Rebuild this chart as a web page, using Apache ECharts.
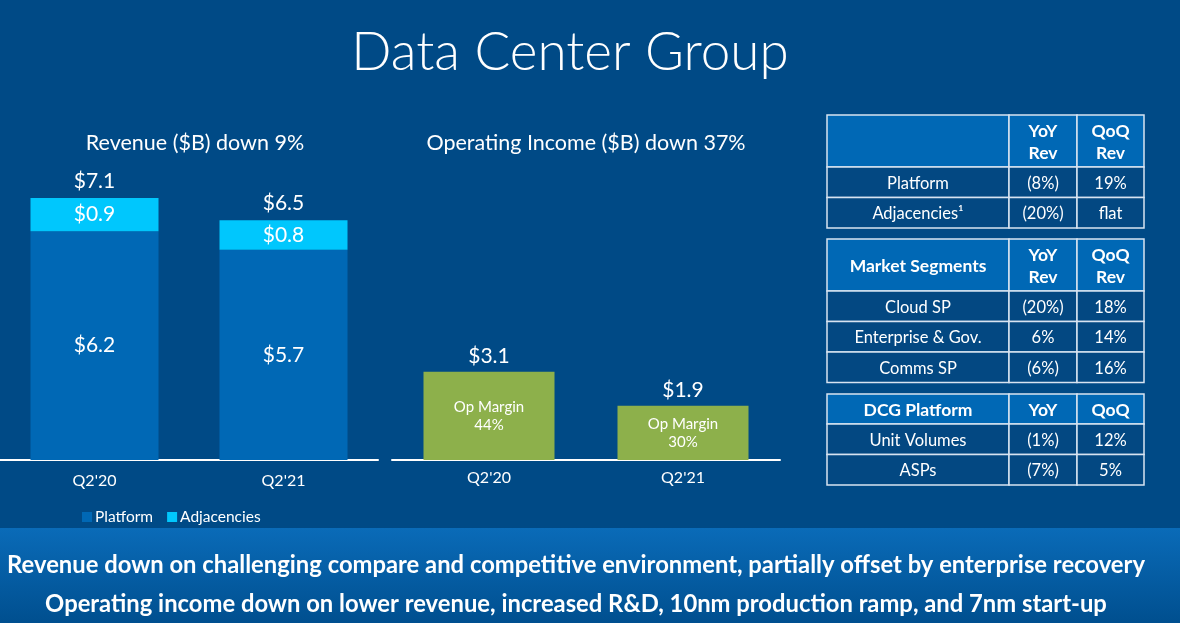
<!DOCTYPE html>
<html>
<head>
<meta charset="utf-8">
<script src="https://cdn.jsdelivr.net/npm/echarts@6/dist/echarts.min.js"></script>
<style>
  html, body { margin: 0; padding: 0; background: #004a86; }
  #chart { width: 1180px; height: 623px; }
</style>
</head>
<body>
<div id="chart"></div>
<script>
// Quarters shown on both charts
const quarters = ["Q2'20", "Q2'21"];

// Revenue ($B)
const platformRev = [6.2, 5.7];
const adjacencyRev = [0.9, 0.8];
const revenueTotals = [7.1, 6.5];

// Operating income ($B) and margin
const opIncome = [3.1, 1.9];
const opMargin = ['44%', '30%'];

// Side tables
const tableHeads = [
    ['', 'YoY\nRev', 'QoQ\nRev'],
    ['Market Segments', 'YoY\nRev', 'QoQ\nRev'],
    ['DCG Platform', 'YoY', 'QoQ']
];
const tableRows = [
    [['Platform', '(8%)', '19%'], ['Adjacencies¹', '(20%)', 'flat']],
    [['Cloud SP', '(20%)', '18%'], ['Enterprise & Gov.', '6%', '14%'], ['Comms SP', '(6%)', '16%']],
    [['Unit Volumes', '(1%)', '12%'], ['ASPs', '(7%)', '5%']]
];

const footerLines = [
    'Revenue down on challenging compare and competitive environment, partially offset by enterprise recovery',
    'Operating income down on lower revenue, increased R&D, 10nm production ramp, and 7nm start-up'
];

const FONT = 'Lato, "Noto Sans", sans-serif';
const WHITE = '#ffffff';

const chart = echarts.init(document.getElementById('chart'));

// build the table out of graphic rects + texts
function buildTables() {
    const colX = [827, 1009, 1077, 1144];
    const tops = [115, 239, 394];
    const headH = [52, 52, 30];
    const rowH = 30.5;
    const els = [];
    tableHeads.forEach((head, t) => {
        let y = tops[t];
        // header row
        for (let c = 0; c < 3; c++) {
            els.push({
                type: 'rect',
                shape: { x: colX[c], y: y, width: colX[c + 1] - colX[c], height: headH[t] },
                style: { fill: '#0068b5', stroke: '#d7e3f1', lineWidth: 1.5 }
            });
            if (head[c]) {
                els.push({
                    type: 'text', z: 10,
                    style: {
                        text: head[c], x: (colX[c] + colX[c + 1]) / 2, y: y + headH[t] / 2 + 1,
                        align: 'center', verticalAlign: 'middle', fill: WHITE,
                        fontSize: 17.5, fontWeight: 'bold', fontFamily: FONT, lineHeight: 22
                    }
                });
            }
        }
        y += headH[t];
        tableRows[t].forEach(row => {
            for (let c = 0; c < 3; c++) {
                els.push({
                    type: 'rect',
                    shape: { x: colX[c], y: y, width: colX[c + 1] - colX[c], height: rowH },
                    style: { fill: '#034882', stroke: '#d7e3f1', lineWidth: 1.5 }
                });
                els.push({
                    type: 'text', z: 10,
                    style: {
                        text: row[c], x: (colX[c] + colX[c + 1]) / 2, y: y + rowH / 2 + 1,
                        align: 'center', verticalAlign: 'middle', fill: WHITE,
                        fontSize: 16.5, fontFamily: FONT
                    }
                });
            }
            y += rowH;
        });
    });
    return els;
}

function buildFooter() {
    const els = [{
        type: 'rect',
        shape: { x: 0, y: 528, width: 1180, height: 95 },
        style: {
            fill: new echarts.graphic.LinearGradient(0, 0, 0, 1, [
                { offset: 0, color: '#0a6bb8' },
                { offset: 1, color: '#004f8f' }
            ])
        }
    }];
    footerLines.forEach((line, i) => {
        els.push({
            type: 'text', z: 10,
            style: {
                text: line, x: 576, y: 565 + i * 39,
                align: 'center', verticalAlign: 'middle', fill: WHITE,
                fontSize: 23.8, fontWeight: 'bold', fontFamily: FONT
            }
        });
    });
    return els;
}

const valueLabel = { color: WHITE, fontSize: 21, fontFamily: FONT };

const option = {
    backgroundColor: '#004a86',
    animation: false,
    textStyle: { fontFamily: FONT },
    title: [
        {
            text: 'Data Center Group', left: 565, top: 21, textAlign: 'center',
            textStyle: { color: WHITE, fontSize: 53, fontWeight: 300, fontFamily: FONT }
        },
        {
            text: 'Revenue ($B) down 9%', left: 190, top: 127, textAlign: 'center',
            textStyle: { color: WHITE, fontSize: 21.5, fontWeight: 'normal', fontFamily: FONT }
        },
        {
            text: 'Operating Income ($B) down 37%', left: 581, top: 127, textAlign: 'center',
            textStyle: { color: WHITE, fontSize: 21.5, fontWeight: 'normal', fontFamily: FONT }
        }
    ],
    legend: {
        data: ['Platform', 'Adjacencies'],
        left: 77, top: 504,
        icon: 'rect', itemWidth: 10, itemHeight: 10, itemGap: 14,
        textStyle: { color: WHITE, fontSize: 15.5, fontFamily: FONT, padding: [0, 0, 0, -2] }
    },
    grid: [
        { left: 0, width: 378, top: 91, bottom: 163 },
        { left: 392, width: 388, top: 175, bottom: 163 }
    ],
    xAxis: [0, 1].map(i => ({
        type: 'category', gridIndex: i, data: quarters,
        axisLine: { lineStyle: { color: WHITE, width: 2 } },
        axisTick: { show: false },
        axisLabel: { color: WHITE, fontSize: 16, fontFamily: FONT, margin: i === 0 ? 13 : 10 }
    })),
    yAxis: [0, 1].map(i => ({
        type: 'value', gridIndex: i, min: 0, max: 10, show: false
    })),
    series: [
        {
            name: 'Platform', type: 'bar', stack: 'rev', barWidth: 128,
            data: platformRev, itemStyle: { color: '#0068b5' },
            label: { show: true, position: 'inside', formatter: p => '$' + p.value.toFixed(1), ...valueLabel }
        },
        {
            name: 'Adjacencies', type: 'bar', stack: 'rev', barWidth: 128,
            data: adjacencyRev, itemStyle: { color: '#00c7fd' },
            label: { show: true, position: 'inside', formatter: p => '$' + p.value.toFixed(1), ...valueLabel }
        },
        {
            name: 'Total', type: 'bar', barWidth: 128, barGap: '-100%', z: 1,
            data: revenueTotals, itemStyle: { color: 'rgba(0,0,0,0)' },
            label: { show: true, position: 'top', distance: 6, formatter: p => '$' + p.value.toFixed(1), ...valueLabel }
        },
        {
            name: 'Operating Income', type: 'bar', xAxisIndex: 1, yAxisIndex: 1, barWidth: 131,
            data: opIncome, itemStyle: { color: '#8db04b' },
            label: { show: true, position: 'top', distance: 5, formatter: p => '$' + p.value.toFixed(1), ...valueLabel }
        },
        {
            name: 'Op Margin', type: 'bar', xAxisIndex: 1, yAxisIndex: 1, barWidth: 131, barGap: '-100%',
            data: opIncome, itemStyle: { color: 'rgba(0,0,0,0)' },
            label: {
                show: true, position: 'inside', color: WHITE, fontSize: 15, fontFamily: FONT, lineHeight: 18,
                formatter: p => 'Op Margin\n' + opMargin[p.dataIndex]
            }
        }
    ],
    graphic: buildTables().concat(buildFooter())
};

chart.setOption(option);
</script>
</body>
</html>
